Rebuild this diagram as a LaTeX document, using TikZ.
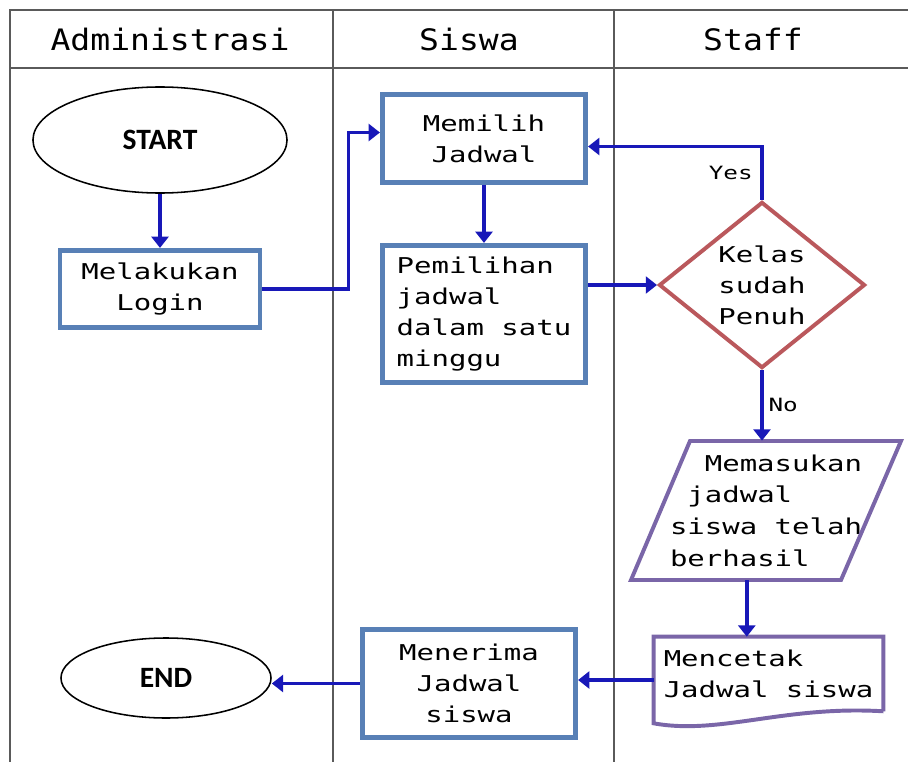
\documentclass[tikz,border=0pt]{standalone}
\usepackage{fontspec}
\usepackage{tikz}
\usetikzlibrary{arrows.meta,calc,positioning,shapes.geometric}
\newfontfamily\pixfont[FakeStretch=1.33]{DejaVu Sans Mono}
\newfontfamily\headfont[FakeStretch=1.12]{DejaVu Sans Mono}
\newfontfamily\termfont{Carlito}
\definecolor{swLane}{RGB}{90,90,90}
\definecolor{swBox}{RGB}{88,128,182}
\definecolor{swFlow}{RGB}{24,24,184}
\definecolor{swDecide}{RGB}{186,88,92}
\definecolor{swDoc}{RGB}{122,102,168}
\tikzset{
  lane/.style={draw=swLane,line width=2pt},
  lanehead/.style={font=\headfont\fontsize{21}{24}\selectfont},
  proc/.style={draw=swBox,line width=3.5pt,fill=white,inner sep=0pt,
    font=\pixfont\fontsize{15.5}{22}\selectfont},
  term/.style={ellipse,draw=black,line width=1.1pt,inner sep=0pt,
    font=\termfont\bfseries\fontsize{21}{24}\selectfont},
  outline/.style={draw=swDoc,line width=2.8pt,line join=miter},
  flow/.style={draw=swFlow,line width=2.6pt,-{Triangle[length=8pt,width=12pt]}},
  flowlabel/.style={font=\pixfont\fontsize{13}{15}\selectfont,text=black}
}

\begin{document}
\begin{tikzpicture}[x=0.025cm,y=-0.025cm]
  \useasboundingbox (0,0) rectangle (908,762);
  % swimlanes
  \draw[lane] (908,10) -- (10,10) -- (10,762);
  \draw[lane] (10,68) -- (908,68);
  \draw[lane] (333,10) -- (333,762);
  \draw[lane] (614,10) -- (614,762);
  \node[lanehead] (hadm) at (170,39) {Administrasi};
  \node[lanehead] (hsis) at (469,39) {Siswa};
  \node[lanehead] (hsta) at (753,39) {Staff};
  % nodes
  \node[term,minimum width=6.35cm,minimum height=2.65cm] (start) at (160,140) {START};
  \node[proc,minimum width=5.0cm,minimum height=1.93cm,align=center] (login) at (160,289) {Melakukan\\Login};
  \node[proc,minimum width=5.08cm,minimum height=2.2cm,align=center] (memilih) at (484,138.5) {Memilih\\Jadwal};
  \node[proc,minimum width=5.08cm,minimum height=3.43cm,align=left] (pemilihan) at (484,314) {Pemilihan\\jadwal\\dalam satu\\minggu};
  \node[diamond,draw=swDecide,line width=2.8pt,inner sep=0pt,minimum width=5.15cm,minimum height=4.05cm,
    align=center,font=\pixfont\fontsize{15.5}{22}\selectfont] (kelas) at (762,285) {Kelas\\sudah\\Penuh};
  \node[minimum width=6.75cm,minimum height=3.48cm,inner sep=0pt,
    align=left,font=\pixfont\fontsize{15.5}{22.5}\selectfont] (para) at (766,510.5)
    {\hspace*{1.6em}Memasukan\\\hspace*{0.8em}jadwal\\siswa telah\\berhasil};
  \draw[outline] ($(para.center)+(-76,-69.5)$) -- ($(para.center)+(135,-69.5)$)
    -- ($(para.center)+(75,69.5)$) -- ($(para.center)+(-135,69.5)$) -- cycle;
  \node[minimum width=5.73cm,minimum height=1.85cm,inner sep=0pt,align=left,
    font=\pixfont\fontsize{15.5}{22}\selectfont] (mencetak) at (768.5,674) {Mencetak\\Jadwal siswa};
  \draw[outline] (mencetak.south east) -- (mencetak.north east)
    -- (mencetak.north west) -- ([yshift=-0.3cm]mencetak.south west)
    .. controls +(66,12) and +(-100,-6) .. (mencetak.south east);
  \node[proc,minimum width=5.33cm,minimum height=2.7cm,align=center] (menerima) at (469,683.5) {Menerima\\Jadwal\\siswa};
  \node[term,minimum width=5.25cm,minimum height=2.0cm] (end) at (166,678) {END};
  % connectors
  \coordinate (paraout) at ([xshift=-0.48cm]para.south);
  \coordinate (docout) at ([yshift=-0.15cm]mencetak.west);
  \draw[flow] (start.south) -- (login.north);
  \draw[flow] (login.east) -- ++(86,0) |- ([yshift=0.15cm]memilih.west);
  \draw[flow] (memilih.south) -- (pemilihan.north);
  \draw[flow] (pemilihan.east |- kelas.west) -- (kelas.west);
  \draw[flow] (kelas.north) |- node[flowlabel,pos=0.25,left,xshift=-2pt] {Yes} ([yshift=-0.2cm]memilih.east);
  \draw[flow] (kelas.south) -- node[flowlabel,right] {No} (kelas.south |- para.north);
  \draw[flow] (paraout) -- (paraout |- mencetak.north);
  \draw[flow] (docout) -- (docout -| menerima.east);
  \draw[flow] (menerima.west) -- (menerima.west -| end.east);
\end{tikzpicture}
\end{document}
